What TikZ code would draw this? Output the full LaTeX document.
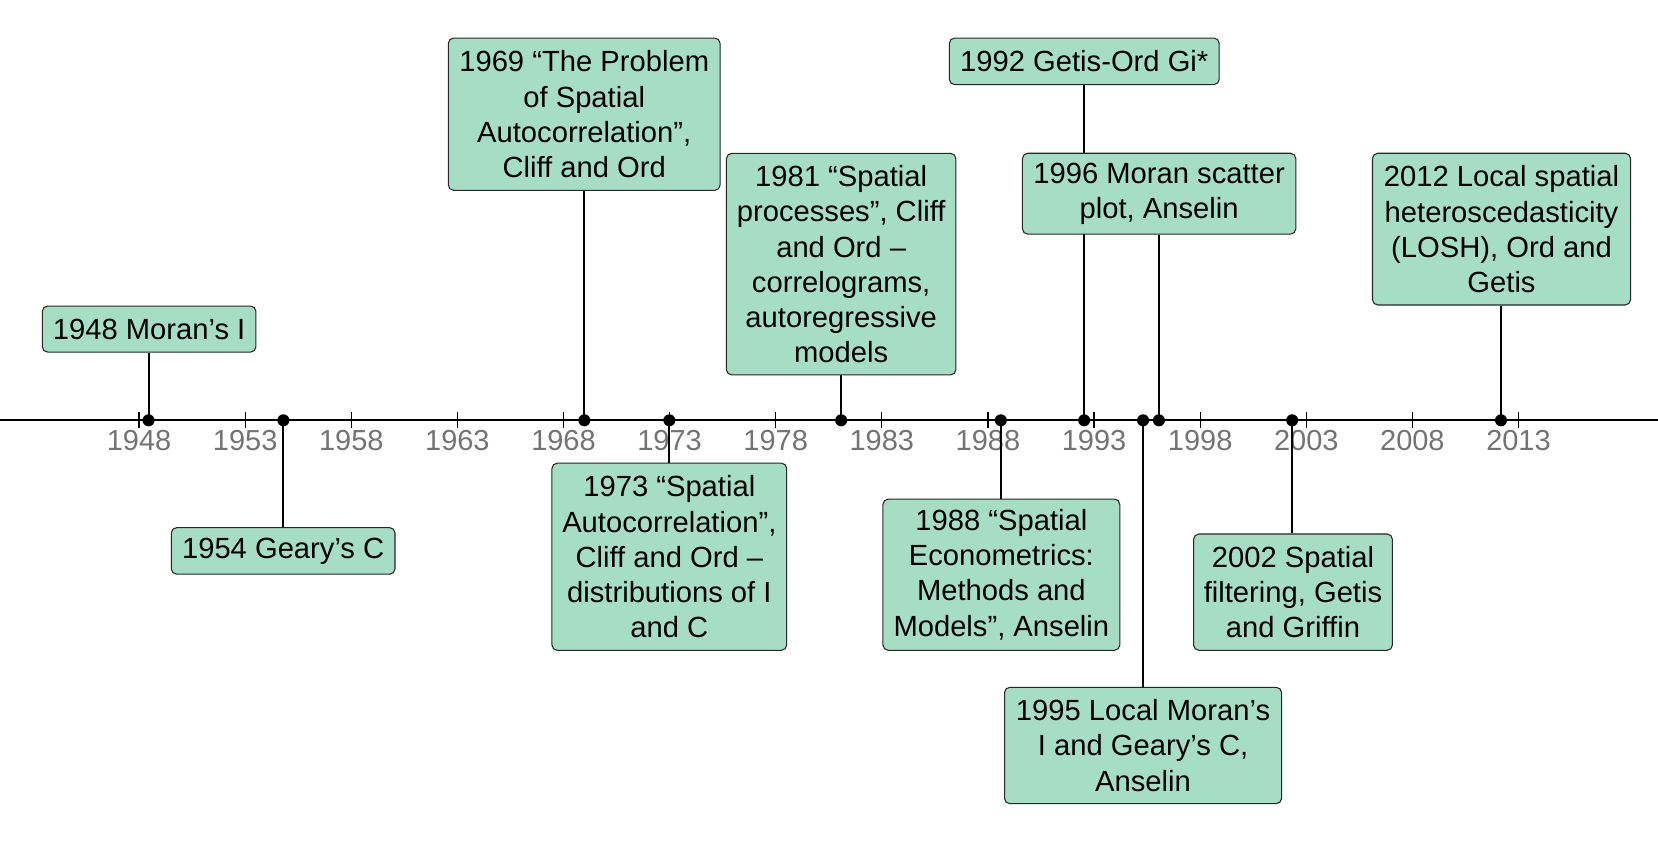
\documentclass[tikz,border=0pt]{standalone}
\usepackage{fontspec}
\setmainfont{Liberation Sans}
\usetikzlibrary{backgrounds}
\definecolor{boxgreen}{RGB}{166,222,197}
\definecolor{tickgray}{RGB}{115,115,115}
\begin{document}
\begin{tikzpicture}[x=0.5pt,y=-0.5pt,
  evbox/.style={draw=black!85, line width=0.5pt, fill=boxgreen, rounded corners=2.5pt,
    align=center, inner sep=0pt, font=\fontsize{13.8pt}{16.6pt}\selectfont},
  stem/.style={line width=1pt},
  axisline/.style={line width=1pt},
  tickmark/.style={line width=0.6pt},
  yearlbl/.style={text=tickgray, anchor=base, inner sep=0pt, font=\fontsize{13.7pt}{16pt}\selectfont},
  evdot/.style={circle, fill=black, inner sep=0pt, minimum size=5.7pt}]
\useasboundingbox (0,0) rectangle (1568,796);

% event positions on the axis
\coordinate (d1948) at (140.5,397.5);
\coordinate (d1954) at (268,397.5);
\coordinate (d1969) at (552.6,397.5);
\coordinate (d1973) at (633,397.5);
\coordinate (d1981) at (795.5,397.5);
\coordinate (d1988) at (946.5,397.5);
\coordinate (d1992) at (1025.3,397.5);
\coordinate (d1995) at (1081,397.5);
\coordinate (d1996) at (1096,397.5);
\coordinate (d2002) at (1222,397.5);
\coordinate (d2012) at (1419.5,397.5);
\coordinate (axL) at (0,397.5);
\coordinate (axR) at (1568,397.5);

% boxes
\node[evbox, minimum width=101pt, minimum height=21.75pt] (b1948) at (141,311.2) {1948 Moran’s I};
\node[evbox, minimum width=105.75pt, minimum height=22pt] (b1954) at (267.8,521) {1954 Geary’s C};
\node[evbox, minimum width=128.5pt, minimum height=72pt] (b1969) at (552.5,108)
  {1969 “The Problem\\of Spatial\\Autocorrelation”,\\Cliff and Ord};
\node[evbox, minimum width=111pt, minimum height=88.5pt] (b1973) at (633,526.5)
  {1973 “Spatial\\Autocorrelation”,\\Cliff and Ord –\\distributions of I\\and C};
\node[evbox, minimum width=108.5pt, minimum height=104.75pt] (b1981) at (795.5,249.8)
  {1981 “Spatial\\processes”, Cliff\\and Ord –\\correlograms,\\autoregressive\\models};
\node[evbox, minimum width=112pt, minimum height=71.5pt] (b1988) at (947,543.5)
  {1988 “Spatial\\Econometrics:\\Methods and\\Models”, Anselin};
\node[evbox, minimum width=127.6pt, minimum height=22pt] (b1992) at (1025.4,58) {1992 Getis-Ord Gi*};
\node[evbox, minimum width=129.25pt, minimum height=38.25pt] (b1996) at (1096.2,183.2)
  {1996 Moran scatter\\plot, Anselin};
\node[evbox, minimum width=131pt, minimum height=55pt] (b1995) at (1081,705)
  {1995 Local Moran’s\\I and Geary’s C,\\Anselin};
\node[evbox, minimum width=94pt, minimum height=55pt] (b2002) at (1222.8,560)
  {2002 Spatial\\filtering, Getis\\and Griffin};
\node[evbox, minimum width=122pt, minimum height=71.75pt] (b2012) at (1420,216.7)
  {2012 Local spatial\\heteroscedasticity\\(LOSH), Ord and\\Getis};

\begin{scope}[on background layer]
  \draw[axisline] (axL) -- (axR);
  \foreach \k in {0,...,13} {
    \pgfmathsetmacro\xx{131.5+100.35*\k}
    \pgfmathtruncatemacro\yr{1948+5*\k}
    \draw[tickmark] (\xx,390) -- (\xx,405);
    \node[yearlbl] (y\yr) at (\xx,426.2) {\yr};
  }
  % stems up
  \foreach \e in {1948,1969,1981,1992,1996,2012}
    \draw[stem] (d\e) -- (d\e |- b\e.south);
  % stems down
  \foreach \e in {1954,1973,1988,1995,2002}
    \draw[stem] (d\e) -- (d\e |- b\e.north);
\end{scope}

% dots
\foreach \e in {1948,1954,1969,1973,1981,1988,1992,1995,1996,2002,2012}
  \node[evdot] (p\e) at (d\e) {};
\end{tikzpicture}
\end{document}
